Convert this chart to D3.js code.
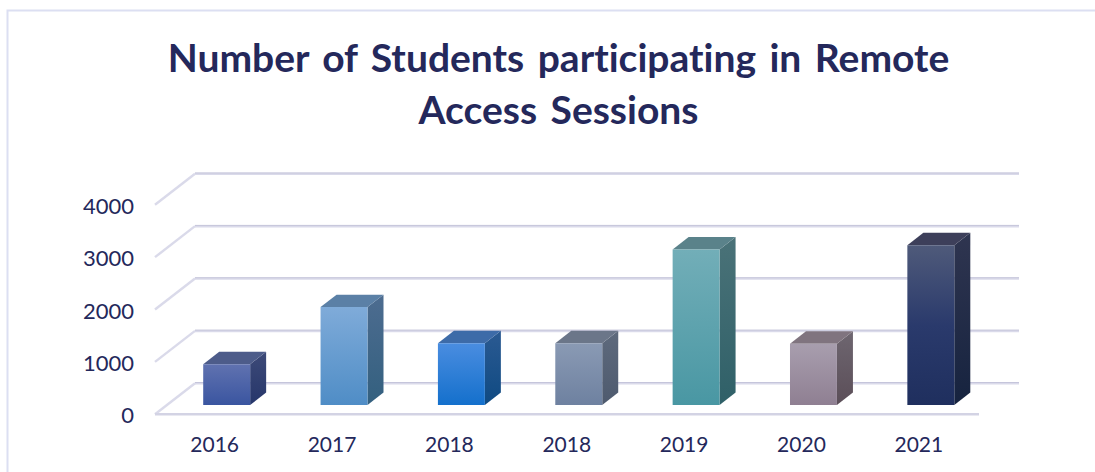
<!DOCTYPE html>
<html>
<head>
<meta charset="utf-8">
<style>
  html, body { margin: 0; padding: 0; background: #fff; }
  svg { display: block; }
  text { font-family: Lato, "Open Sans", sans-serif; fill: #24285b; font-variant-ligatures: none; }
</style>
</head>
<body>
<div id="chart"></div>
<script src="https://cdn.jsdelivr.net/npm/d3@7"></script>
<script>
const titleLines = ["Number of Students participating in Remote", "Access Sessions"];
const categories = ["2016", "2017", "2018", "2018", "2019", "2020", "2021"];
const values = [780, 1870, 1180, 1180, 2970, 1170, 3050];
const yTicks = [0, 1000, 2000, 3000, 4000];

// face colours per bar: front gradient stops, top, side gradient stops
const frontColors = [
    ["#6072b0", "#3a55a0"], ["#7fabd9", "#4f8dc6"], ["#4a8de0", "#1470cc"], ["#8a9ab4", "#6e81a0"],
    ["#72aeb8", "#4997a3"], ["#a89eae", "#8f7f92"], ["#4f5a7a", "#2a3a6c", "#1f2f5e"]
];
const topColors = ["#4d5c8a", "#5b80a6", "#3d6ba8", "#6b7689", "#5a828a", "#80747f", "#3d3f5a"];
const sideColors = [
    ["#3d4a78", "#26366a"], ["#4d6c90", "#33607f"], ["#2b5a92", "#0f4a82"], ["#5e6a7d", "#4e5a6e"],
    ["#4a7278", "#2f6068"], ["#6e6670", "#5b4e58"], ["#2f3550", "#16233f"]
];

const width = 1095, height = 472;
const depthX = 40, depthY = 31; // floor depth in pixels
const barZ0 = 0.3, barZ1 = 0.7; // bar position along the depth

const svg = d3.select("#chart").append("svg")
    .attr("width", width)
    .attr("height", height);

const x = d3.scaleBand()
    .domain(d3.range(categories.length))
    .range([156, 977.5])
    .paddingInner(0.6)
    .paddingOuter(0.3);

const y = d3.scaleLinear()
    .domain([0, 4000])
    .range([414.3, 204.8]);

// project a point (pixel x, value, depth) on to the page
const project = (px, v, z) => [px + z * depthX, y(v) - z * depthY];
const line = d3.line();

// frame
svg.append("path")
    .attr("d", `M7.5,${height}V10.5H${width}`)
    .attr("fill", "none")
    .attr("stroke", "#dcdff2")
    .attr("stroke-width", 2);

// title
svg.append("g").selectAll("text")
    .data(titleLines)
    .join("text")
    .attr("x", 558.5)
    .attr("y", (d, i) => 72 + i * 52)
    .attr("text-anchor", "middle")
    .style("font-size", "39px")
    .style("word-spacing", "4px")
    .style("font-weight", 700)
    .text(d => d);

// gradients
const defs = svg.append("defs");
const addGradient = (id, stops) => {
    const g = defs.append("linearGradient")
        .attr("id", id)
        .attr("x1", 0).attr("y1", 0)
        .attr("x2", 0).attr("y2", 1);
    g.selectAll("stop")
        .data(stops)
        .join("stop")
        .attr("offset", (d, i) => i / (stops.length - 1))
        .attr("stop-color", d => d);
};
frontColors.forEach((c, i) => addGradient(`front${i}`, c));
sideColors.forEach((c, i) => addGradient(`side${i}`, c));

// grid: one wall line plus a diagonal per tick
const grid = svg.append("g")
    .attr("fill", "none")
    .attr("stroke", "#dadaea")
    .attr("stroke-width", 2.4);

grid.selectAll("path.wall")
    .data(yTicks)
    .join("path")
    .attr("class", "wall")
    .attr("d", d => line([project(155, d, 1), project(979, d, 1)]));

grid.selectAll("path.edge")
    .data(yTicks)
    .join("path")
    .attr("class", "edge")
    .attr("d", d => line([project(155, d, 0), project(155, d, 1)]));

// darker top hairline on the wall lines
svg.append("g")
    .attr("stroke", "#bcbcd2")
    .attr("stroke-width", 0.7)
    .selectAll("path")
    .data(yTicks)
    .join("path")
    .attr("d", d => line([project(155, d, 1), project(979, d, 1)]))
    .attr("transform", "translate(0,-0.8)");

// floor front edge
svg.append("path")
    .attr("d", line([project(155, 0, 0), project(979, 0, 0)]))
    .attr("stroke", "#d3d3e4")
    .attr("stroke-width", 2.4);

// bars
const bars = svg.append("g").selectAll("g")
    .data(values)
    .join("g");

bars.append("path") // side
    .attr("d", (d, i) => {
        const r = x(i) + x.bandwidth();
        return line([project(r, 0, barZ0), project(r, d, barZ0), project(r, d, barZ1), project(r, 0, barZ1)]) + "Z";
    })
    .attr("fill", (d, i) => `url(#side${i})`);

bars.append("path") // top
    .attr("d", (d, i) => {
        const l = x(i), r = l + x.bandwidth();
        return line([project(l, d, barZ0), project(r, d, barZ0), project(r, d, barZ1), project(l, d, barZ1)]) + "Z";
    })
    .attr("fill", (d, i) => topColors[i]);

bars.append("path") // front
    .attr("d", (d, i) => {
        const l = x(i), r = l + x.bandwidth();
        return line([project(l, 0, barZ0), project(r, 0, barZ0), project(r, d, barZ0), project(l, d, barZ0)]) + "Z";
    })
    .attr("fill", (d, i) => `url(#front${i})`);

// axes
const xAxis = d3.axisBottom(x).tickSize(0).tickFormat(i => categories[i]);
svg.append("g")
    .attr("transform", "translate(0,414)")
    .call(xAxis)
    .call(g => g.select(".domain").remove())
    .call(g => g.selectAll("text").attr("dy", null).attr("y", 38).style("font-size", "21px"));

const yAxis = d3.axisLeft(y).tickValues(yTicks).tickSize(0).tickFormat(d3.format("d"));
svg.append("g")
    .attr("transform", "translate(134,0.6)")
    .call(yAxis)
    .call(g => g.select(".domain").remove())
    .call(g => g.selectAll("text").attr("x", 0).attr("dy", "0.36em").style("font-size", "22px"));
svg.selectAll("g[font-family]").attr("font-family", null);
</script>
</body>
</html>
